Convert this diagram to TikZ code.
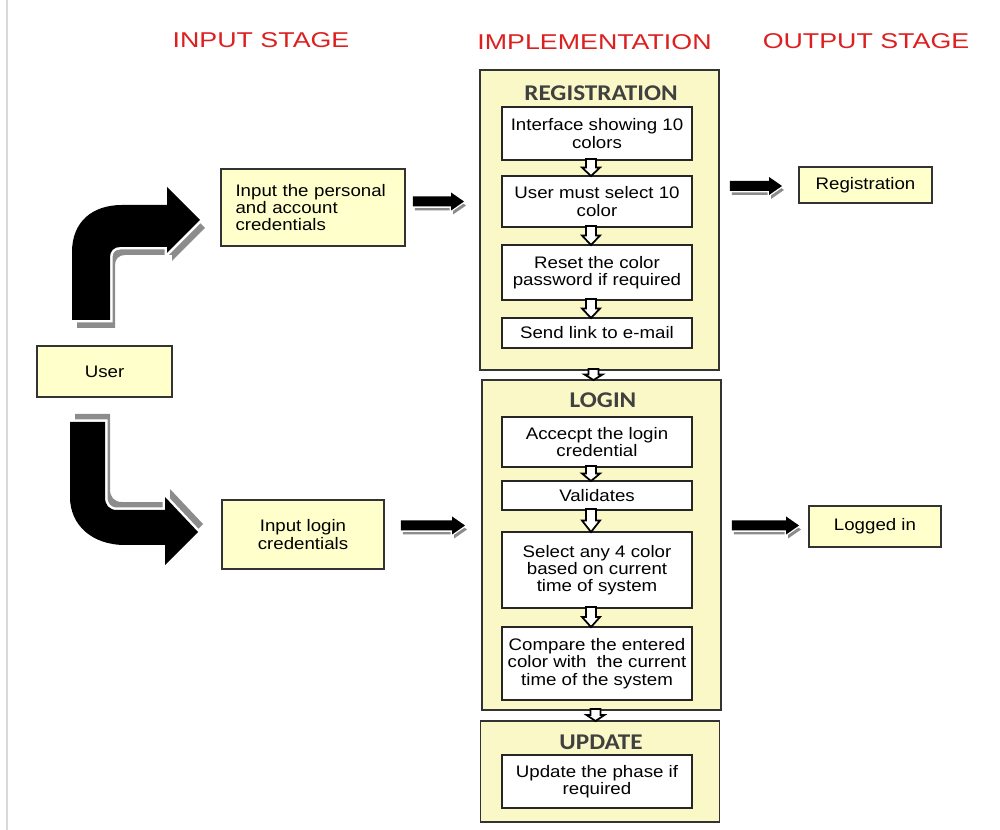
\documentclass[tikz,border=0pt]{standalone}
\usepackage{fontspec}
\setmainfont{Liberation Sans}[FakeStretch=1.12]
\newfontfamily\headfont{Carlito}[FakeStretch=1.12]
\newfontfamily\stagefont{Liberation Sans}[FakeStretch=1.25]
\usepackage{tikz}
\usetikzlibrary{positioning,calc}

\definecolor{stagered}{RGB}{220,32,32}
\definecolor{boxyellow}{RGB}{255,255,204}
\definecolor{panelyellow}{RGB}{251,248,200}
\definecolor{headgray}{RGB}{64,64,64}
\definecolor{shadegray}{RGB}{140,140,140}

% small hollow arrow between two stacked boxes
\newcommand{\hollowdn}[2]{%
  \coordinate (ha) at ($(#1.south)+(-6,-2)$);
  \coordinate (hb) at ($(ha |- #2.north)+(0,1)$);
  \coordinate (hm) at ($(ha)!0.5!(hb)$);
  \draw[hollow] ($(ha)+(-5,0)$) -- ($(ha)+(5,0)$) -- ($(hm)+(5,0)$) -- ($(hm)+(9,0)$)
    -- (hb) -- ($(hm)+(-9,0)$) -- ($(hm)+(-5,0)$) -- cycle;}

% thick black arrow with a grey shade, tail #1, tip x taken from #2
\newcommand{\fatarrow}[2]{%
  \coordinate (fa) at (#1);
  \coordinate (ft) at (#2);
  \coordinate (fb) at (ft |- fa);
  \foreach \st in {fatshade,fathalo,fatbody}
    \path[\st] ($(fa)+(0,-5)$) -- ($(fb)+(-13,-5)$) -- ($(fb)+(-13,-9)$) -- (fb)
      -- ($(fb)+(-13,9)$) -- ($(fb)+(-13,5)$) -- ($(fa)+(0,5)$) -- cycle;}

% bent arrows leaving the user box
\newcommand{\bendup}[1]{\path[#1] (72,320) -- (72,252) .. controls (72,222) and (92,205) .. (122,205)
  -- (167,205) -- (167,187) -- (200,220) -- (167,253) -- (167,247) -- (120,247)
  .. controls (114,247) and (110,251) .. (110,257) -- (110,320) -- cycle;}
\newcommand{\benddown}[1]{\path[#1] (70,422) -- (105,422) -- (105,497)
  .. controls (105,505) and (109,510) .. (117,510) -- (165,510) -- (165,497) -- (198,532)
  -- (165,565) -- (165,545) -- (125,545) .. controls (92,545) and (70,525) .. (70,497) -- cycle;}

\begin{document}
\begin{tikzpicture}[x=0.02cm, y=-0.02cm,
  every node/.style={font=\fontsize{9.5}{9.8}\selectfont},
  stage/.style={font=\stagefont\fontsize{12.2}{14}\selectfont, text=stagered},
  ybox/.style={draw=black!80, line width=1.1pt, fill=boxyellow, align=center, inner sep=2pt},
  panel/.style={draw=black!80, line width=1.1pt, fill=panelyellow, minimum width=4.78cm},
  ptitle/.style={font=\headfont\bfseries\fontsize{12.8}{14}\selectfont, text=headgray},
  sbox/.style={draw=black!85, line width=1.1pt, fill=white, align=center, minimum width=3.8cm, inner sep=2pt},
  hollow/.style={draw=black, fill=white, line width=1pt, line join=miter},
  fatshade/.style={fill=shadegray, transform canvas={xshift=0.04cm, yshift=-0.08cm}},
  fathalo/.style={draw=white, line width=1.5pt},
  fatbody/.style={fill=black},
  bendhalo/.style={draw=white, line width=0.1cm}
]
\useasboundingbox (0,0) rectangle (1000,830);
\draw[gray!30, line width=1pt] (7,0) -- (7,830);

% stage headers
\node[stage] (instage) at (261,40) {INPUT STAGE};
\node[stage] (implstage) at (594.5,42) {IMPLEMENTATION};
\node[stage] (outstage) at (866,41) {OUTPUT STAGE};

% implementation panels
\node[panel, minimum height=6cm] (reg) at (599.5,220) {};
\node[panel, minimum height=6.6cm] (login) at (601.5,545) {};
\node[panel, minimum height=2.02cm] (upd) at (600,771.5) {};
\node[ptitle] (regt) at (601,93) {REGISTRATION};
\node[ptitle] (logt) at (603,400) {LOGIN};
\node[ptitle] (updt) at (601,742) {UPDATE};

% steps
\node[sbox, minimum height=1.06cm] (r1) at (597,133.5) {Interface showing 10\\colors};
\node[sbox, minimum height=1.02cm] (r2) at (597,201.5) {User must select 10\\color};
\node[sbox, minimum height=1.1cm] (r3) at (597,272.5) {Reset the color\\password if required};
\node[sbox, minimum height=0.6cm] (r4) at (597,333) {Send link to e-mail};
\node[sbox, minimum height=1cm] (l1) at (597,442) {Accecpt the login\\credential};
\node[sbox, minimum height=0.58cm] (l2) at (597,495.5) {Validates};
\node[sbox, minimum height=1.52cm] (l3) at (597,570) {Select any 4 color\\based on current\\time of system};
\node[sbox, minimum height=1.46cm] (l4) at (597,663.5) {Compare the entered\\color with\ \ the current\\time of the system};
\node[sbox, minimum height=1.06cm] (u1) at (597,781.5) {Update the phase if\\required};

\foreach \a/\b in {r1/r2,r2/r3,r3/r4,l1/l2,l2/l3,l3/l4,reg/login,login/upd} {\hollowdn{\a}{\b}}

% input and output boxes
\node[ybox, minimum width=2.7cm, minimum height=1.02cm] (user) at (104.5,371.5) {User};
\node[ybox, text width=3.1cm, align=left, inner xsep=0.29cm, minimum height=1.54cm] (in1) at (313,207.5) {Input the personal\\and account\\credentials};
\node[ybox, minimum width=3.24cm, minimum height=1.38cm] (in2) at (303,534.5) {Input login\\credentials};
\node[ybox, minimum width=2.66cm, minimum height=0.72cm] (out1) at (865.5,185) {Registration};
\node[ybox, minimum width=2.64cm, minimum height=0.82cm] (out2) at (875,526.5) {Logged in};

% bent arrows
\bendup{fill=shadegray, transform canvas={xshift=0.1cm, yshift=-0.16cm}}
\bendup{bendhalo}
\bendup{fill=black}
\benddown{fill=shadegray, transform canvas={xshift=0.1cm, yshift=0.16cm}}
\benddown{bendhalo}
\benddown{fill=black}

% straight arrows
\fatarrow{$(in1.east)+(7,-6)$}{$(reg.west)+(-15,0)$}
\fatarrow{$(in2.east)+(16,-9)$}{$(login.west)+(-16,0)$}
\fatarrow{$(reg.east |- out1)+(10,1)$}{$(out1.west)+(-16,0)$}
\fatarrow{$(login.east |- out2)+(10,-1)$}{$(out2.west)+(-9,0)$}
\end{tikzpicture}
\end{document}
